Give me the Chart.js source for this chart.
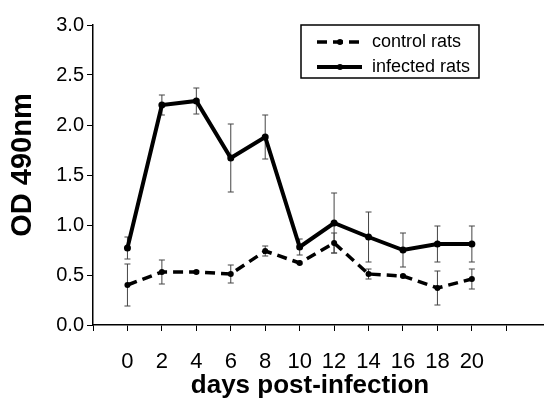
<!DOCTYPE html>
<html lang="en">
<head>
    <meta charset="UTF-8">
    <title>OD 490nm</title>
    <script src="https://cdn.jsdelivr.net/npm/chart.js"></script>
    <style>
        html, body { margin: 0; padding: 0; background: #fff; }
        #wrap { width: 547px; height: 404px; }
    </style>
</head>
<body>
    <div id="wrap"><canvas id="od-chart" width="547" height="404"></canvas></div>

    <script>
        const days = [0, 2, 4, 6, 8, 10, 12, 14, 16, 18, 20];
        const infected = [0.77, 2.20, 2.24, 1.67, 1.88, 0.78, 1.02, 0.88, 0.75, 0.81, 0.81];
        const infectedErr = [0.11, 0.10, 0.13, 0.34, 0.22, 0.08, 0.30, 0.25, 0.17, 0.18, 0.18];
        const control = [0.40, 0.53, 0.53, 0.51, 0.74, 0.62, 0.82, 0.51, 0.49, 0.37, 0.46];
        const controlErr = [0.21, 0.12, 0.01, 0.09, 0.05, 0.01, 0.10, 0.05, 0.01, 0.17, 0.10];
        const xTicks = [-2, 0, 2, 4, 6, 8, 10, 12, 14, 16, 18, 20, 22];
        const yTicks = [0, 0.5, 1, 1.5, 2, 2.5, 3];

        const toPoints = (vals) => days.map((d, i) => ({ x: d, y: vals[i] }));

        // error bars, drawn through the chart scales
        const errorBars = {
            id: 'errorBars',
            beforeDatasetsDraw(chart) {
                const { ctx, scales: { x, y } } = chart;
                ctx.save();
                chart.data.datasets.forEach(ds => {
                    ds.errors.forEach((e, i) => {
                        const px = x.getPixelForValue(days[i]);
                        const top = y.getPixelForValue(ds.data[i].y + e);
                        const bot = y.getPixelForValue(ds.data[i].y - e);
                        ctx.strokeStyle = '#444';
                        ctx.lineWidth = 1;
                        ctx.beginPath();
                        ctx.moveTo(px, top);
                        ctx.lineTo(px, bot);
                        ctx.moveTo(px - 3, top);
                        ctx.lineTo(px + 3, top);
                        ctx.moveTo(px - 3, bot);
                        ctx.lineTo(px + 3, bot);
                        ctx.stroke();
                    });
                });
                ctx.restore();
            }
        };

        // axis titles and boxed legend inside the plot
        const extras = {
            id: 'extras',
            afterDraw(chart) {
                const { ctx } = chart;
                ctx.save();
                ctx.fillStyle = '#000';
                ctx.font = 'bold 26px "Liberation Sans", Arial, sans-serif';
                ctx.textAlign = 'center';
                ctx.textBaseline = 'alphabetic';
                ctx.fillText('days post-infection', 310, 393);

                ctx.translate(31, 165);
                ctx.rotate(-Math.PI / 2);
                ctx.font = 'bold 29px "Liberation Sans", Arial, sans-serif';
                ctx.fillText('OD 490nm', 0, 0);
                ctx.restore();

                ctx.save();
                ctx.strokeStyle = '#000';
                ctx.lineWidth = 1.5;
                ctx.strokeRect(301, 25, 178, 53);
                ctx.font = '18px "Liberation Sans", Arial, sans-serif';
                ctx.textBaseline = 'middle';
                ctx.textAlign = 'left';
                chart.data.datasets.forEach((ds, i) => {
                    const ly = 42 + i * 25;
                    ctx.strokeStyle = '#000';
                    ctx.lineWidth = ds.borderWidth;
                    ctx.setLineDash(ds.borderDash || []);
                    ctx.beginPath();
                    ctx.moveTo(317, ly);
                    ctx.lineTo(362, ly);
                    ctx.stroke();
                    ctx.setLineDash([]);
                    ctx.beginPath();
                    ctx.arc(340, ly, 3, 0, Math.PI * 2);
                    ctx.fillStyle = '#000';
                    ctx.fill();
                    ctx.fillText(ds.label, 372, ly);
                });
                ctx.restore();
            }
        };

        new Chart(document.getElementById('od-chart'), {
            type: 'line',
            data: {
                datasets: [{
                    label: 'control rats',
                    data: toPoints(control),
                    errors: controlErr,
                    borderColor: '#000',
                    backgroundColor: '#000',
                    borderWidth: 3.5,
                    borderDash: [10, 6],
                    pointRadius: 3,
                    pointBorderWidth: 0
                }, {
                    label: 'infected rats',
                    data: toPoints(infected),
                    errors: infectedErr,
                    borderColor: '#000',
                    backgroundColor: '#000',
                    borderWidth: 4,
                    pointRadius: 3.5,
                    pointBorderWidth: 0
                }]
            },
            options: {
                responsive: false,
                animation: false,
                layout: { padding: { top: 25, right: 0, left: 0, bottom: 0 } },
                plugins: {
                    legend: { display: false },
                    tooltip: { enabled: false }
                },
                scales: {
                    x: {
                        type: 'linear',
                        min: -2,
                        max: 24.13,
                        afterBuildTicks: (s) => { s.ticks = xTicks.map(v => ({ value: v })); },
                        afterFit: (s) => { s.height = 79; },
                        border: { color: '#000', width: 1.5 },
                        grid: { drawOnChartArea: false, color: '#000', tickLength: 6, lineWidth: 1 },
                        ticks: {
                            color: '#000',
                            padding: 18,
                            maxRotation: 0,
                            autoSkip: false,
                            font: { size: 22, family: '"Liberation Sans", Arial, sans-serif' },
                            callback: (v) => (v >= 0 && v <= 20 ? String(v) : '')
                        }
                    },
                    y: {
                        min: 0,
                        max: 3,
                        afterBuildTicks: (s) => { s.ticks = yTicks.map(v => ({ value: v })); },
                        afterFit: (s) => { s.width = 93; },
                        border: { color: '#000', width: 1.5 },
                        grid: { drawOnChartArea: false, color: '#000', tickLength: 6, lineWidth: 1 },
                        ticks: {
                            color: '#000',
                            padding: 3,
                            font: { size: 20, family: '"Liberation Sans", Arial, sans-serif' },
                            callback: (v) => v.toFixed(1)
                        }
                    }
                }
            },
            plugins: [errorBars, extras]
        });
    </script>
</body>
</html>
